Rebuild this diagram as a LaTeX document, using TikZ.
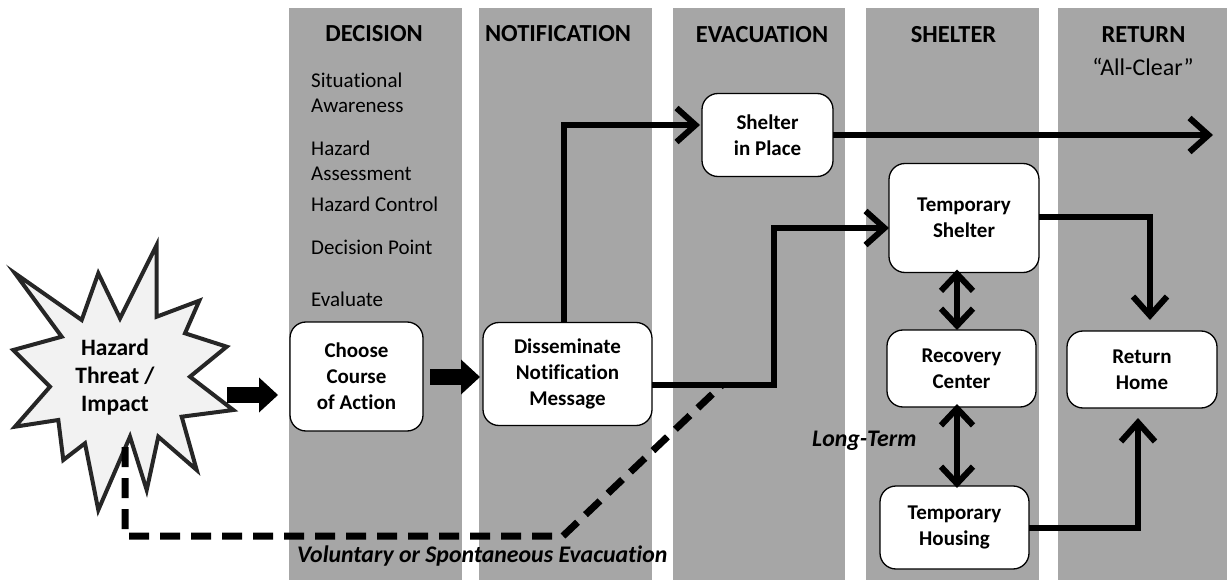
\documentclass[tikz,border=0pt]{standalone}
\usepackage{fontspec}
\setmainfont{Carlito}[Ligatures={TeX,NoCommon}]
\usetikzlibrary{arrows.meta}
\definecolor{colgray}{HTML}{A6A6A6}
\definecolor{starfill}{HTML}{F2F2F2}
\definecolor{starline}{HTML}{262626}
\newcommand\hdfont{\fontsize{24.5}{28}\selectfont\bfseries}
\newcommand\lsfont{\fontsize{21}{25}\selectfont}
\newcommand\clfont{\fontsize{24}{28}\selectfont}
\newcommand\bxfont{\fontsize{21}{26}\selectfont\bfseries}
\newcommand\stfont{\fontsize{23.5}{28}\selectfont\bfseries}
\newcommand\itfont{\fontsize{23.8}{28}\selectfont\bfseries\itshape}
\begin{document}
\begin{tikzpicture}[x=1pt,y=-1pt,
  col/.style={fill=colgray,draw=none},
  head/.style={font=\hdfont,inner sep=0pt},
  lst/.style={font=\lsfont,inner sep=0pt,anchor=base west},
  box/.style={draw=black,line width=1.3pt,fill=white,rounded corners=16pt,inner sep=0pt,outer sep=0pt,align=center,font=\bxfont},
  flow/.style={line width=6pt,-{Straight Barb[length=19pt,width=34pt]}},
  dflow/.style={line width=6pt,{Straight Barb[length=17pt,width=32pt]}-{Straight Barb[length=17pt,width=32pt]}},
  block/.style={line width=16pt,-{Triangle[length=19pt,width=35pt,line width=0pt]}},
  dashflow/.style={line width=7pt,dash pattern=on 20pt off 11pt},
  note/.style={font=\itfont,inner sep=0pt}
]
\useasboundingbox (0,0) rectangle (1227,580);
% columns
\fill[col] (289,8) rectangle (462,580);
\fill[col] (479,8) rectangle (652,580);
\fill[col] (673,8) rectangle (845,580);
\fill[col] (866,8) rectangle (1039,580);
\fill[col] (1058,8) rectangle (1227,580);
% headings
\node[head] (hdec) at (374,34) {DECISION};
\node[head] (hnot) at (558,34) {NOTIFICATION};
\node[head] (hevac) at (762,35) {EVACUATION};
\node[head] (hshel) at (953.5,35) {SHELTER};
\node[head] (hret) at (1143.5,35) {RETURN};
\node[font=\clfont,inner sep=0pt] (hclear) at (1143,67) {“All-Clear”};
% decision list
\node[lst] (l1) at (311,88) {Situational};
\node[lst] (l2) at (311,113) {Awareness};
\node[lst] (l3) at (311,156) {Hazard};
\node[lst] (l4) at (311,181) {Assessment};
\node[lst] (l5) at (311,212) {Hazard Control};
\node[lst] (l6) at (311,255) {Decision Point};
\node[lst] (l7) at (311,306) {Evaluate};
% star
\filldraw[fill=starfill,draw=starline,line width=4pt,line join=miter]
  (98.3,273.3) -- (120,318.3) -- (156.7,245) -- (156.7,316.7) -- (199.3,300.7)
  -- (185,333.3) -- (226.7,346.7) -- (190,376.7) -- (233.3,410) -- (181.7,416.7)
  -- (196.7,470) -- (158.3,436.7) -- (146.7,490) -- (130,436.7) -- (98.3,510)
  -- (85,443.3) -- (63.3,460) -- (58.3,420) -- (15,426.7) -- (50,386.7)
  -- (13.3,350) -- (61.7,336.7) -- (15,273.3) -- (81.7,320) -- cycle;
\node[font=\stfont,align=center,inner sep=0pt] (star) at (115,377) {Hazard\\Threat /\\Impact};
% boxes
\node[box,minimum width=133pt,minimum height=109pt] (choose) at (356.5,376.5) {Choose\\Course\\of Action};
\node[box,minimum width=169pt,minimum height=103pt] (dissem) at (567.5,374) {Disseminate\\Notification\\Message};
\node[box,minimum width=131pt,minimum height=83pt] (sip) at (767.5,135) {Shelter\\in Place};
\node[box,minimum width=150pt,minimum height=109pt] (tshel) at (964,218) {Temporary\\Shelter};
\node[box,minimum width=149pt,minimum height=77pt] (recov) at (961.5,368.5) {Recovery\\Center};
\node[box,minimum width=150pt,minimum height=77pt] (rhome) at (1142,369.5) {Return\\Home};
\node[box,minimum width=149pt,minimum height=83pt] (thous) at (954.5,527.5) {Temporary\\Housing};
% labels
\node[note,anchor=west] (lt) at (812,441) {Long-Term};
\node[note,anchor=west] (vol) at (297,556) {Voluntary or Spontaneous Evacuation};
% coordinates
\coordinate (bs) at (227,395);
\coordinate (c1) at (564,125);
\coordinate (allclear) at (1213,135);
\coordinate (c2) at (774,385);
\coordinate (c3) at (774,228);
\coordinate (c4) at (1150,217);
\coordinate (c5) at (1138,528);
\coordinate (ds) at (125,447);
\coordinate (d1) at (125,536);
\coordinate (d2) at (563,536);
\coordinate (d3) at (722,385);
% block arrows
\draw[block,shorten >=12pt] (bs) -- (choose.west |- bs);
\draw[block,shorten <=7pt,shorten >=3pt] (choose.east |- 0,377) -- (dissem.west |- 0,377);
% flows
\draw[flow,shorten >=2pt] (dissem.north -| c1) -- (c1) -- (sip.west |- c1);
\draw[flow] (sip.east) -- (allclear);
\draw[flow] (dissem.east |- c2) -- (c2) -- (c3) -- (tshel.west |- c3);
\draw[flow,shorten >=11pt] (tshel.east |- c4) -- (c4) -- (rhome.north -| c4);
\draw[dflow,shorten <=-3pt] (tshel.south -| 957,0) -- (recov.north -| 957,0);
\draw[dflow,shorten <=-3pt,shorten >=-2pt] (recov.south -| 957,0) -- (thous.north -| 957,0);
\draw[flow,shorten >=10pt] (thous.east |- c5) -- (c5) -- (rhome.south -| c5);
\draw[dashflow] (ds) -- (d1) -- (d2) -- (d3);
\end{tikzpicture}
\end{document}
